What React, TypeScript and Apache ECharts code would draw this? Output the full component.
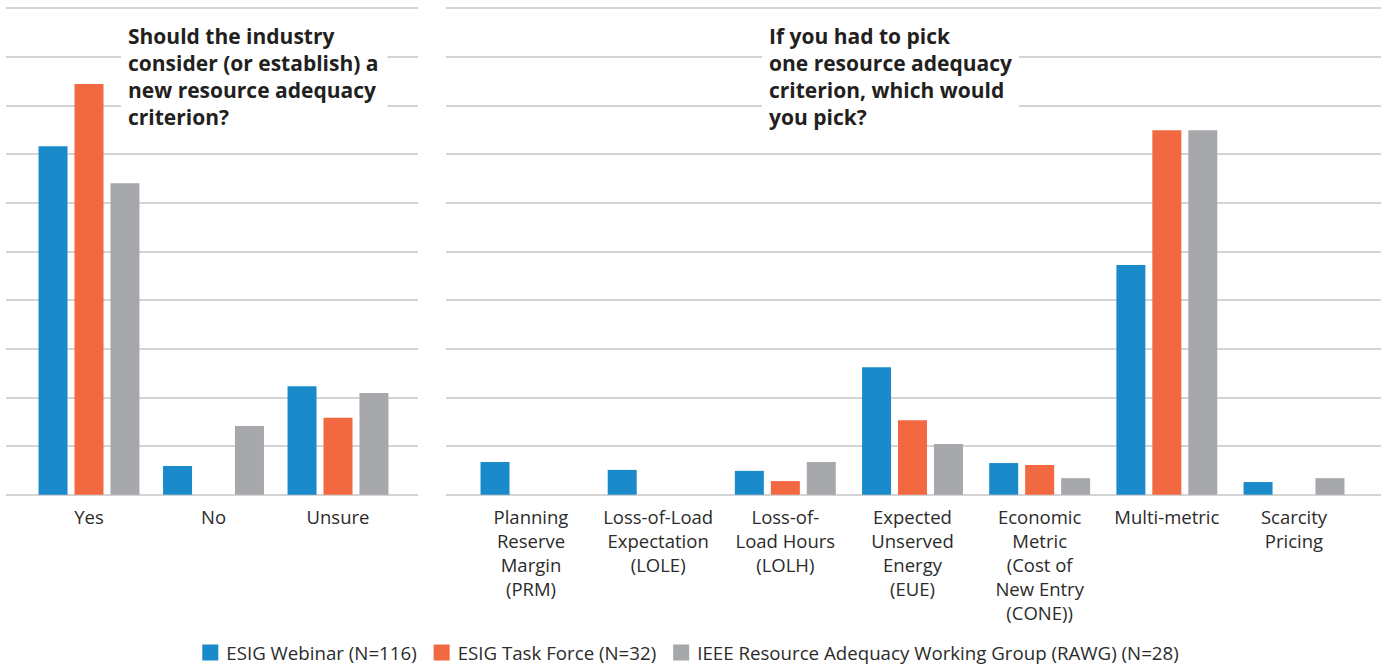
import React, { useEffect, useRef } from "react";
import * as echarts from "echarts";

const seriesNames = [
  "ESIG Webinar (N=116)",
  "ESIG Task Force (N=32)",
  "IEEE Resource Adequacy Working Group (RAWG) (N=28)",
];
const colors = ["#1b8aca", "#f26841", "#a7a8ab"];

const leftCategories = ["Yes", "No", "Unsure"];
const leftWebinar = [71.6, 5.9, 22.3];
const leftTaskForce = [84.4, 0, 15.8];
const leftRawg = [64.0, 14.1, 20.9];

const rightCategories = [
  "Planning\nReserve\nMargin\n(PRM)",
  "Loss-of-Load\nExpectation\n(LOLE)",
  "Loss-of-\nLoad Hours\n(LOLH)",
  "Expected\nUnserved\nEnergy\n(EUE)",
  "Economic\nMetric\n(Cost of\nNew Entry\n(CONE))",
  "Multi-metric",
  "Scarcity\nPricing",
];
const rightWebinar = [6.7, 5.1, 4.9, 26.2, 6.5, 47.2, 2.6];
const rightTaskForce = [0, 0, 2.8, 15.3, 6.1, 74.9, 0];
const rightRawg = [0, 0, 6.7, 10.4, 3.4, 74.9, 3.4];

const leftTitle = "Should the industry\nconsider (or establish) a\nnew resource adequacy\ncriterion?";
const rightTitle = "If you had to pick\none resource adequacy\ncriterion, which would\nyou pick?";

const yMin = 0;
const yMax = 100;
const yInterval = 10;

export default function App() {
  const ref = useRef<HTMLDivElement>(null);
  useEffect(() => {
    if (!ref.current) return;
    const chart = echarts.init(ref.current, null, { renderer: "svg" });
    const top = 8;
    const height = 486.7;
    const gridLine = { show: true, lineStyle: { color: "#c6c6c6", width: 1.5 } };
    const labelStyle = {
      color: "#2b2b2b",
      fontFamily: "Open Sans",
      fontSize: 18.5,
      lineHeight: 24,
      margin: 10,
      interval: 0,
    };
    const yAxisBase = (gi: number, showSplit: boolean) => ({
      type: "value",
      gridIndex: gi,
      min: yMin,
      max: yMax,
      interval: yInterval,
      axisLabel: { show: false },
      axisLine: { show: false },
      axisTick: { show: false },
      splitLine: showSplit ? gridLine : { show: false },
    });
    const bar = (name: string, data: number[], idx: number, axis: number) => ({
      name,
      type: "bar",
      xAxisIndex: axis,
      yAxisIndex: axis,
      data,
      barWidth: 29,
      barGap: "24%",
      itemStyle: { color: colors[idx] },
    });
    const titleStyle = {
      color: "#231f20",
      fontFamily: "Open Sans",
      fontWeight: "bold",
      fontSize: 21,
      lineHeight: 27,
    };
    chart.setOption({
      animation: false,
      backgroundColor: "#ffffff",
      title: [
        {
          text: leftTitle,
          left: 121,
          top: 18,
          padding: [4, 9, 4, 7],
          backgroundColor: "#ffffff",
          textStyle: titleStyle,
        },
        {
          text: rightTitle,
          left: 762,
          top: 18,
          padding: [4, 7, 4, 7],
          backgroundColor: "#ffffff",
          textStyle: titleStyle,
        },
      ],
      legend: {
        data: seriesNames,
        left: "center",
        top: 643,
        padding: 0,
        icon: "rect",
        itemWidth: 16,
        itemHeight: 16,
        itemGap: 17,
        textStyle: {
          color: "#2b2b2b",
          fontFamily: "Open Sans",
          fontSize: 18.7,
          lineHeight: 16,
          padding: [0, 0, 0, 3],
        },
      },
      grid: [
        { left: 6, top, width: 412, height },
        { left: 26.75, top, width: 373.5, height },
        { left: 446, top, width: 935, height },
        { left: 467.4, top, width: 890.2, height },
      ],
      xAxis: [
        { type: "value", gridIndex: 0, show: false },
        {
          type: "category",
          gridIndex: 1,
          data: leftCategories,
          axisLine: { show: false },
          axisTick: { show: false },
          axisLabel: labelStyle,
        },
        { type: "value", gridIndex: 2, show: false },
        {
          type: "category",
          gridIndex: 3,
          data: rightCategories,
          axisLine: { show: false },
          axisTick: { show: false },
          axisLabel: labelStyle,
        },
      ],
      yAxis: [yAxisBase(0, true), yAxisBase(1, false), yAxisBase(2, true), yAxisBase(3, false)],
      series: [
        bar(seriesNames[0], leftWebinar, 0, 1),
        bar(seriesNames[1], leftTaskForce, 1, 1),
        bar(seriesNames[2], leftRawg, 2, 1),
        bar(seriesNames[0], rightWebinar, 0, 3),
        bar(seriesNames[1], rightTaskForce, 1, 3),
        bar(seriesNames[2], rightRawg, 2, 3),
      ],
    });
    return () => chart.dispose();
  }, []);
  return (
    <div
      ref={ref}
      style={{ position: "absolute", left: 0, top: 0, width: 1381, height: 666 }}
    />
  );
}
